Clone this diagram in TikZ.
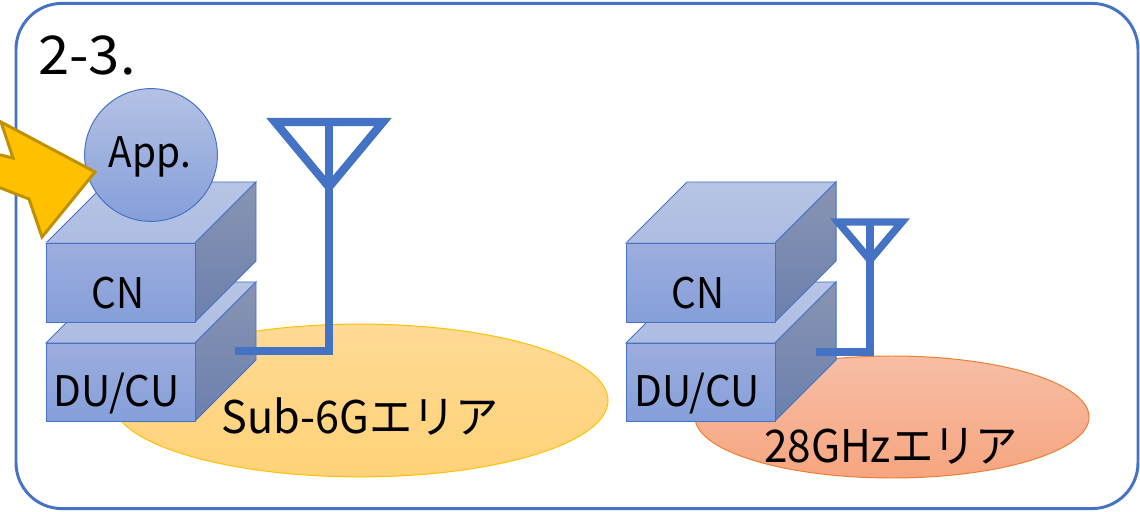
\documentclass[tikz,border=0pt]{standalone}
\usepackage{fontspec}
\setmainfont{Noto Sans CJK JP}
\usetikzlibrary{shapes.geometric}
\definecolor{framecol}{HTML}{4472C4}
\definecolor{boxfronttop}{HTML}{9DADDD}
\definecolor{boxfrontbot}{HTML}{859FDA}
\definecolor{boxtoptop}{HTML}{B7C4E4}
\definecolor{boxtopbot}{HTML}{ADBCE1}
\definecolor{boxsidetop}{HTML}{8894B2}
\definecolor{boxsidebot}{HTML}{6C80AE}
\definecolor{startcol}{HTML}{FFC000}
\definecolor{starline}{HTML}{BF9000}
\definecolor{areaAtop}{HTML}{FFDA95}
\definecolor{areaAbot}{HTML}{FFD277}
\definecolor{areaBtop}{HTML}{F7BEA5}
\definecolor{areaBbot}{HTML}{F6A57F}
\definecolor{areaBline}{HTML}{ED7D31}
\tikzset{
  cubefront/.style={draw=framecol, line width=0.7pt, top color=boxfronttop, bottom color=boxfrontbot},
  cubetop/.style={draw=framecol, line width=0.7pt, top color=boxtoptop, bottom color=boxtopbot},
  cubeside/.style={draw=framecol, line width=0.7pt, top color=boxsidetop, bottom color=boxsidebot},
  antline/.style={draw=framecol, line width=5.9pt, miter limit=10},
  txtlabel/.style={inner sep=0pt, font=\fontsize{30}{30}\selectfont, xscale=0.92},
  arealabel/.style={inner sep=0pt, font=\fontsize{32}{32}\selectfont}
}
\begin{document}
\begin{tikzpicture}[scale=0.25]
\clip (0,0) rectangle (114,-51.2);
\fill [white] (0,0) rectangle (114,-51.2);
\node (frame) [draw=framecol, line width=2.1pt, rounded corners=1.15cm, minimum width=28.05cm, minimum height=12.63cm, inner sep=0pt] at (57.7,-25.6) {};
\node (title) [inner sep=0pt, font=\fontsize{38}{38}\selectfont, xscale=1.05, anchor=west] at (3.8,-5.5) {2-3.};
% coverage areas
\node (areaA) [ellipse, draw=startcol, line width=0.7pt, top color=areaAtop, bottom color=areaAbot, minimum width=12.4cm, minimum height=3.82cm, inner sep=0pt] at (36,-40.05) {};
\node (areaB) [ellipse, draw=areaBline, line width=0.7pt, top color=areaBtop, bottom color=areaBbot, minimum width=9.85cm, minimum height=3.05cm, inner sep=0pt] at (89.2,-41.7) {};
% left stack
\draw [cubetop] (4.6,-34.3) -- (10.7,-28.2) -- (25.6,-28.2) -- (19.5,-34.3) -- cycle;
\draw [cubeside] (19.5,-34.3) -- (25.6,-28.2) -- (25.6,-36) -- (19.5,-42.1) -- cycle;
\draw [cubefront] (4.6,-34.3) rectangle (19.5,-42.1);
\draw [cubetop] (4.6,-24.3) -- (10.7,-18.2) -- (25.6,-18.2) -- (19.5,-24.3) -- cycle;
\draw [cubeside] (19.5,-24.3) -- (25.6,-18.2) -- (25.6,-26.1) -- (19.5,-32.2) -- cycle;
\draw [cubefront] (4.6,-24.3) rectangle (19.5,-32.2);
% right stack
\draw [cubetop] (62.6,-34.3) -- (68.7,-28.2) -- (83.6,-28.2) -- (77.5,-34.3) -- cycle;
\draw [cubeside] (77.5,-34.3) -- (83.6,-28.2) -- (83.6,-36) -- (77.5,-42.1) -- cycle;
\draw [cubefront] (62.6,-34.3) rectangle (77.5,-42.1);
\draw [cubetop] (62.6,-24.3) -- (68.7,-18.2) -- (83.6,-18.2) -- (77.5,-24.3) -- cycle;
\draw [cubeside] (77.5,-24.3) -- (83.6,-18.2) -- (83.6,-26.1) -- (77.5,-32.2) -- cycle;
\draw [cubefront] (62.6,-24.3) rectangle (77.5,-32.2);
\node (app) [circle, draw=framecol, line width=0.7pt, top color=boxtoptop!90!boxfronttop, bottom color=boxfrontbot, minimum size=3.32cm, inner sep=0pt] at (15.1,-15.5) {};
% left antenna
\coordinate (antAtop) at (32.9,-12.2);
\coordinate (antAtip) at (32.9,-18.7);
\coordinate (antAfoot) at (32.9,-35.1);
\coordinate (antAfeed) at (23.5,-35.1);
\draw [antline] (27.5,-12.2) -- (38.3,-12.2) -- (antAtip) -- cycle;
\draw [antline] (antAtop) -- (antAfoot) -- (antAfeed);
% right antenna
\coordinate (antBtop) at (87,-22.2);
\coordinate (antBtip) at (87,-26);
\coordinate (antBfoot) at (87,-35.2);
\coordinate (antBfeed) at (81.6,-35.2);
\draw [antline, line width=5.3pt] (83.8,-22.2) -- (90.2,-22.2) -- (antBtip) -- cycle;
\draw [antline, line width=5.3pt] (antBtop) -- (antBfoot) -- (antBfeed);
% hit marker
\draw [fill=startcol, draw=starline, line width=2.1pt, miter limit=10] (-2,-15) -- (1.3,-15.8) -- (0.1,-12.2) -- (9.5,-17.2) -- (4.2,-23.7) -- (2.9,-19.9) -- (-2,-18) -- cycle;
% labels
\node (appLabel) [txtlabel] at (15,-15.7) {App.};
\node (cnA) [txtlabel] at (11.8,-29.3) {CN};
\node (duA) [txtlabel, xscale=0.96/0.92] at (11.65,-39.4) {DU/CU};
\node (cnB) [txtlabel] at (69.8,-29.3) {CN};
\node (duB) [txtlabel, xscale=0.96/0.92] at (69.7,-39.4) {DU/CU};
\node (textA) [arealabel, xscale=0.96] at (36.05,-41.7) {Sub-6Gエリア};
\node (textB) [arealabel, xscale=0.94] at (89.1,-44.6) {28GHzエリア};
\end{tikzpicture}
\end{document}
